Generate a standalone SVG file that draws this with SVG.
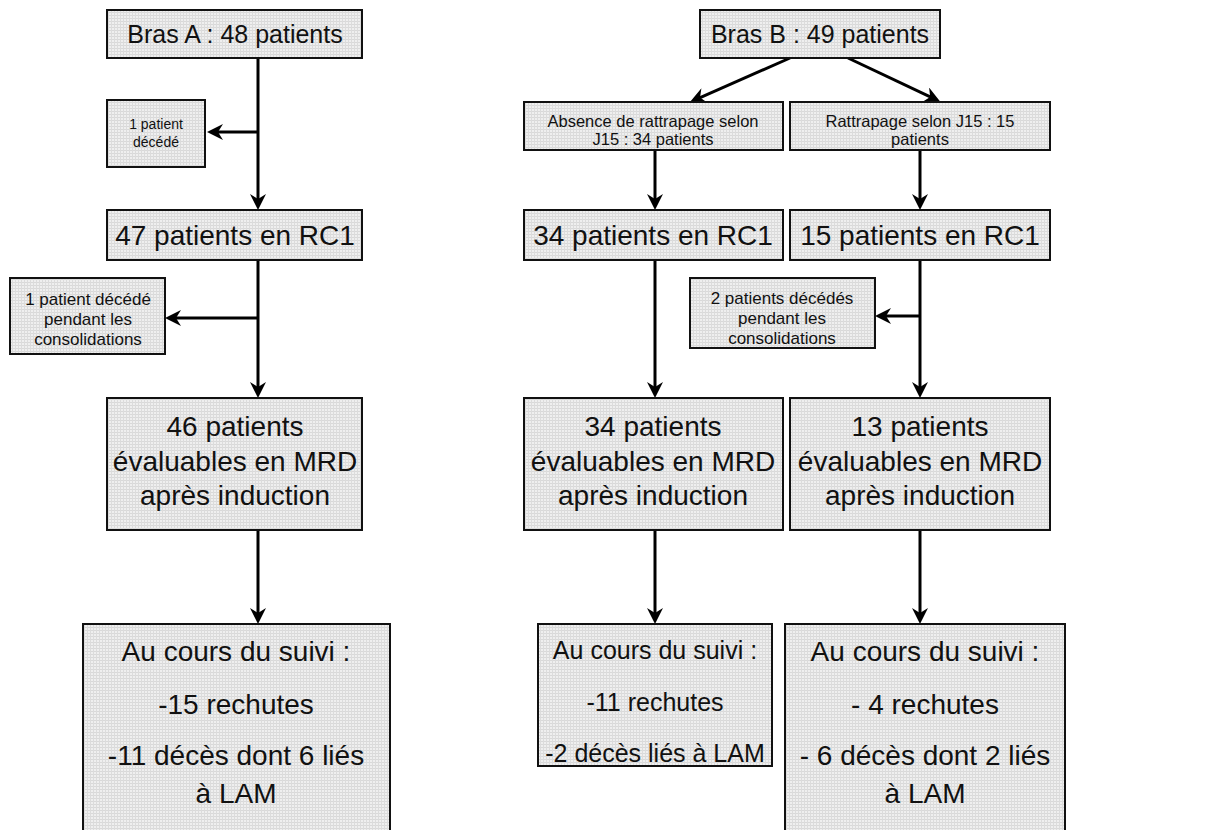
<svg xmlns="http://www.w3.org/2000/svg" width="1221" height="830" viewBox="0 0 1221 830">
<defs>
<pattern id="grid" width="3" height="3" patternUnits="userSpaceOnUse">
<rect width="3" height="3" fill="#efefef"/>
<rect width="3" height="1" fill="#d9d9d9"/>
<rect width="1" height="3" fill="#dcdcdc"/>
</pattern>
<marker id="ah" viewBox="0 0 16 16" refX="8" refY="8" markerWidth="16" markerHeight="16" markerUnits="userSpaceOnUse" orient="auto">
<path d="M0,0 L16,8 L0,16 L5,8 Z" fill="#000"/>
</marker>
<style>
.box{fill:url(#grid);stroke:#111;stroke-width:2}
.t{font-family:"Liberation Sans",Arial,sans-serif;fill:#111;text-anchor:middle}
.big{font-size:28px}
.mid{font-size:25px}
.hd{font-size:25px}
.sm{font-size:17px}
.ab{font-size:16.5px}
.xs{font-size:14px}
.c{fill:none;stroke:#000;stroke-width:3;marker-end:url(#ah)}
</style>
</defs>
<rect width="1221" height="830" fill="#fff"/>
<g id="connectors">
<path class="c" d="M258,58 V202"/>
<path class="c" d="M258,132 H215"/>
<path class="c" d="M258,260 V390"/>
<path class="c" d="M258,318 H173"/>
<path class="c" d="M258,530 V616"/>
<path class="c" d="M790,58 L697.3,98.8"/>
<path class="c" d="M848,58 L932.9,98.2"/>
<path class="c" d="M655,150 V202"/>
<path class="c" d="M920,150 V202"/>
<path class="c" d="M655,260 V390"/>
<path class="c" d="M920,260 V390"/>
<path class="c" d="M920,316 H883"/>
<path class="c" d="M655,530 V616"/>
<path class="c" d="M920,530 V616"/>
</g>
<g id="brasA"><rect class="box" x="107" y="10" width="255" height="48"/><text class="t hd" x="235" y="43">Bras A : 48 patients</text></g>
<g id="decA1"><rect class="box" x="107" y="100" width="98" height="67"/><text class="t xs" x="156" y="129">1 patient</text><text class="t xs" x="156" y="147">décédé</text></g>
<g id="rcA"><rect class="box" x="107" y="210" width="255" height="50"/><text class="t big" x="235" y="245">47 patients en RC1</text></g>
<g id="decA2"><rect class="box" x="10" y="278" width="155" height="76"/><text class="t sm" x="88" y="305">1 patient décédé</text><text class="t sm" x="88" y="325">pendant les</text><text class="t sm" x="88" y="345">consolidations</text></g>
<g id="mrdA"><rect class="box" x="107" y="398" width="255" height="132"/><text class="t big" x="235" y="436">46 patients</text><text class="t big" x="235" y="471">évaluables en MRD</text><text class="t big" x="235" y="505">après induction</text></g>
<g id="suiviA"><rect class="box" x="83" y="624" width="307" height="220"/><text class="t big" x="236" y="661">Au cours du suivi :</text><text class="t big" x="236" y="714">-15 rechutes</text><text class="t big" x="236" y="765">-11 décès dont 6 liés</text><text class="t big" x="236" y="803">à LAM</text></g>
<g id="brasB"><rect class="box" x="700" y="10" width="240" height="48"/><text class="t hd" x="820" y="43">Bras B : 49 patients</text></g>
<g id="absence"><rect class="box" x="524" y="102" width="259" height="48"/><text class="t ab" x="653" y="127">Absence de rattrapage selon</text><text class="t ab" x="653" y="145">J15 : 34 patients</text></g>
<g id="rattrapage"><rect class="box" x="790" y="102" width="260" height="48"/><text class="t ab" x="920" y="127">Rattrapage selon J15 : 15</text><text class="t ab" x="920" y="145">patients</text></g>
<g id="rcB1"><rect class="box" x="524" y="210" width="259" height="50"/><text class="t big" x="653" y="245">34 patients en RC1</text></g>
<g id="rcB2"><rect class="box" x="790" y="210" width="260" height="50"/><text class="t big" x="920" y="245">15 patients en RC1</text></g>
<g id="decB"><rect class="box" x="690" y="278" width="185" height="70"/><text class="t sm" x="782" y="304">2 patients décédés</text><text class="t sm" x="782" y="324">pendant les</text><text class="t sm" x="782" y="344">consolidations</text></g>
<g id="mrdB1"><rect class="box" x="524" y="398" width="259" height="132"/><text class="t big" x="653" y="436">34 patients</text><text class="t big" x="653" y="471">évaluables en MRD</text><text class="t big" x="653" y="505">après induction</text></g>
<g id="mrdB2"><rect class="box" x="790" y="398" width="260" height="132"/><text class="t big" x="920" y="436">13 patients</text><text class="t big" x="920" y="471">évaluables en MRD</text><text class="t big" x="920" y="505">après induction</text></g>
<g id="suiviB1"><rect class="box" x="538" y="624" width="234" height="142"/><text class="t mid" x="655" y="659">Au cours du suivi :</text><text class="t mid" x="655" y="711">-11 rechutes</text><text class="t mid" x="655" y="762">-2 décès liés à LAM</text></g>
<g id="suiviB2"><rect class="box" x="785" y="624" width="280" height="220"/><text class="t big" x="925" y="661">Au cours du suivi :</text><text class="t big" x="925" y="714">- 4 rechutes</text><text class="t big" x="925" y="765">- 6 décès dont 2 liés</text><text class="t big" x="925" y="803">à LAM</text></g>
</svg>
